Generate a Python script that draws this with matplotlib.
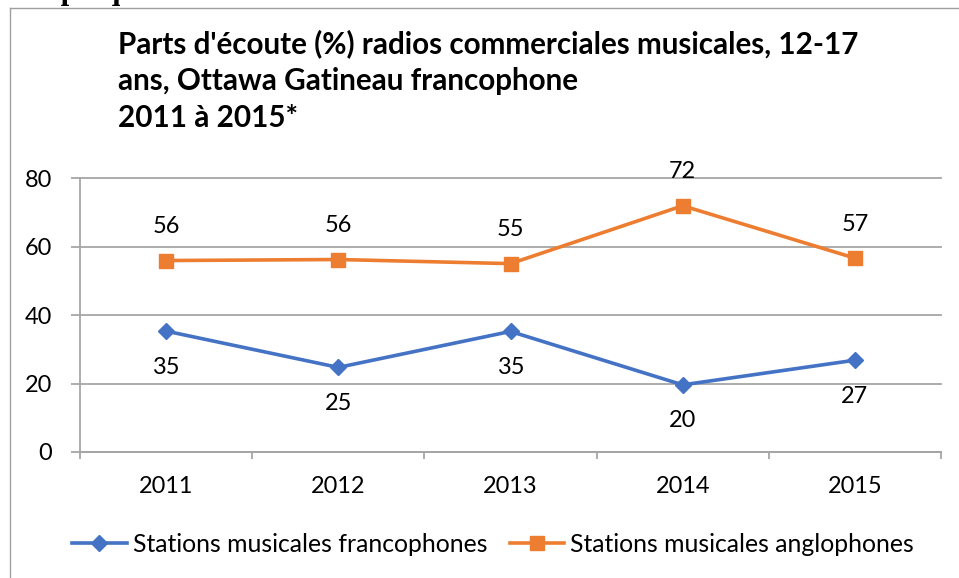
import matplotlib
matplotlib.use('Agg')
import matplotlib.pyplot as plt
from matplotlib.lines import Line2D
import numpy as np

# ---- data ----
years = ['2011', '2012', '2013', '2014', '2015']
franco = [35.3, 24.7, 35.2, 19.6, 26.8]
anglo = [55.9, 56.2, 55.0, 71.9, 56.6]
series_names = ['Stations musicales francophones', 'Stations musicales anglophones']
title_lines = ["Parts d'écoute (%) radios commerciales musicales, 12-17",
               "ans, Ottawa Gatineau francophone",
               "2011 à 2015*"]
yticks = [0, 20, 40, 60, 80]
header = 'Graphique'

# ---- layout ----
W, H, DPI = 959, 578, 100
fig = plt.figure(figsize=(W / DPI, H / DPI), dpi=DPI)
fig.patch.set_facecolor('white')


def fx(px):
    return px / W


def fy(py):
    return 1 - py / H


plt.rcParams['font.family'] = ['Lato', 'DejaVu Sans']
LS = 16.9
LEG = 17.8
BLUE = '#4472C4'
ORANGE = '#ED7D31'
GRID = '#A6A6A6'
FRAME = '#A0A0A0'

# outer chart frame (partially visible)
fig.add_artist(Line2D([fx(10), fx(10)], [fy(8), fy(600)], transform=fig.transFigure,
                      color=FRAME, lw=1.0))
fig.add_artist(Line2D([fx(10), fx(970)], [fy(8), fy(8)], transform=fig.transFigure,
                      color=FRAME, lw=1.0))

# partially cut header text (cut off in the reference as well)
fig.text(fx(8), fy(-0.5), header, family=['Liberation Serif'], fontweight='bold',
         fontsize=22, va='baseline', ha='left')

# title
for line, base in zip(title_lines, [53, 90, 127]):
    fig.text(fx(118), fy(base), line, fontsize=21.3, fontweight='bold',
             va='baseline', ha='left', color='black')

ax = fig.add_axes([fx(80), fy(452), fx(941) - fx(80), fy(178) - fy(452)])
x = np.arange(len(years))
ax.plot(x, franco, color=BLUE, lw=2.6, marker='D', ms=8.5, label=series_names[0],
        zorder=3, clip_on=False)
ax.plot(x, anglo, color=ORANGE, lw=2.6, marker='s', ms=9.5, label=series_names[1],
        zorder=3, clip_on=False)

ax.set_xlim(-0.5, len(years) - 0.5)
ax.set_ylim(0, 80)
ax.set_yticks(yticks)
ax.yaxis.grid(True, color=GRID, lw=1.3)
for gl in ax.get_ygridlines():
    gl.set_clip_on(False)
ax.set_axisbelow(True)
for s in ['top', 'right']:
    ax.spines[s].set_visible(False)
for s in ['left', 'bottom']:
    ax.spines[s].set_color(GRID)
    ax.spines[s].set_linewidth(1.3)

ax.tick_params(axis='y', length=6.5, color=GRID, width=1.3, pad=13.5, labelsize=LS)
ax.set_xticks(np.arange(-0.5, len(years)))
ax.set_xticklabels([])
ax.set_xticks(x, minor=True)
ax.set_xticklabels(years, minor=True)
ax.tick_params(axis='x', which='major', length=5, color=GRID, width=1.3)
ax.tick_params(axis='x', which='minor', length=0, pad=17, labelsize=LS)

for xi, v in zip(x, anglo):
    ax.annotate(f'{round(v)}', (xi, v), xytext=(0, 24.5), textcoords='offset points',
                ha='center', va='center', fontsize=LS, annotation_clip=False)
for xi, v in zip(x, franco):
    ax.annotate(f'{round(v)}', (xi, v), xytext=(0, -26), textcoords='offset points',
                ha='center', va='center', fontsize=LS, annotation_clip=False)

fig.legend(loc='center', bbox_to_anchor=(fx(493), fy(544)), ncol=2, frameon=False,
           fontsize=LEG, handlelength=2.2, handletextpad=0.25, columnspacing=0.9)

fig.savefig('out.png', dpi=DPI)
